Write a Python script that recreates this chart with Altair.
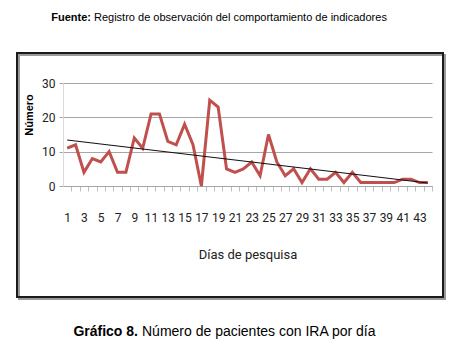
import altair as alt
import pandas as pd

# ---- data ----
days = list(range(1, 45))
patients = [11, 12, 4, 8, 7, 10, 4, 4, 14, 11,
            21, 21, 13, 12, 18, 12, 0, 25, 23, 5,
            4, 5, 7, 3, 15, 7, 3, 5, 1, 5,
            2, 2, 4, 1, 4, 1, 1, 1, 1, 1,
            2, 2, 1, 1]
x_tick_values = list(range(1, 45))
y_tick_values = [0, 10, 20, 30]
source_bold = ["Fuente:"]
source_text = ["Registro de observación del comportamiento de indicadores"]
caption_bold = ["Gráfico 8."]
caption_text = ["Número de pacientes con IRA por día"]
y_title = ["Número"]
x_title = "Días de pesquisa"

# ---- layout ----
W, H = 369, 103
PL, PT = 63, 83
HALF = W / 44 / 2
NARROW = "Roboto, Liberation Sans, sans-serif"
ARIAL = "Liberation Sans, Arial, sans-serif"
RED = "#C0504D"

df = pd.DataFrame({"day": days, "value": patients})

x_enc = alt.X(
    "day:Q",
    scale=alt.Scale(domain=[0.5, 44.5], nice=False, zero=False),
    axis=alt.Axis(
        values=x_tick_values,
        labelExpr="datum.value % 2 == 1 ? datum.label : ''",
        labelOverlap=False,
        labelFlush=False,
        tickOffset=HALF,
        labelOffset=-HALF,
        tickSize=5,
        tickColor="#bfbfbf",
        domainColor="#a6a6a6",
        grid=False,
        labelFont=NARROW,
        labelFontSize=12,
        labelColor="#222222",
        labelPadding=21,
        labelAngle=0,
        title=x_title,
        titleFont=NARROW,
        titleFontSize=13,
        titleFontWeight="normal",
        titleColor="#222222",
        titlePadding=25,
    ),
)
y_enc = alt.Y(
    "value:Q",
    scale=alt.Scale(domain=[0, 30], nice=False),
    axis=alt.Axis(
        values=y_tick_values,
        labelOverlap=False,
        labelFlush=False,
        grid=True,
        gridColor="#a6a6a6",
        domainColor="#d9d9d9",
        tickColor="#a6a6a6",
        tickSize=4,
        labelFont=NARROW,
        labelFontSize=12,
        labelColor="#222222",
        labelPadding=4,
        title="",
    ),
)

base = alt.Chart(df).encode(x=x_enc, y=y_enc)
line = base.mark_line(color=RED, strokeWidth=3)
trend = base.transform_regression("day", "value").mark_line(
    color="#111111", strokeWidth=1.2
)

def text_layer(values, x, y, align, size, weight, font=ARIAL, angle=0):
    return alt.Chart(pd.DataFrame({"t": values})).mark_text(
        align=align, baseline="middle", fontSize=size, fontWeight=weight,
        font=font, color="#000000", angle=angle
    ).encode(x=alt.value(x - PL), y=alt.value(y - PT), text="t:N")

src_b = text_layer(source_bold, 91, 18, "right", 11, "bold")
src_t = text_layer(source_text, 94, 18, "left", 11, "normal")
cap_b = text_layer(caption_bold, 138, 332, "right", 14, "bold")
cap_t = text_layer(caption_text, 142, 332, "left", 14, "normal")
ytl = text_layer(y_title, 30, 115, "center", 11, "bold", angle=270)

frame_df = pd.DataFrame({"k": [0]})
shadow = alt.Chart(frame_df).mark_rect(
    fillOpacity=0, stroke="#9a9a9a", strokeWidth=2
).encode(x=alt.value(17 - PL + 2), x2=alt.value(443 - PL + 2),
         y=alt.value(53 - PT + 2), y2=alt.value(297 - PT + 2))
frame = alt.Chart(frame_df).mark_rect(
    fillOpacity=0, stroke="#1a1a1a", strokeWidth=2
).encode(x=alt.value(17 - PL), x2=alt.value(443 - PL),
         y=alt.value(53 - PT), y2=alt.value(297 - PT))

chart = alt.layer(line, trend, shadow, frame, src_b, src_t, cap_b, cap_t, ytl).properties(
    width=W, height=H,
    autosize=alt.AutoSizeParams(type="none"),
    padding={"left": PL, "top": PT, "right": 461 - PL - W, "bottom": 352 - PT - H},
    background="white",
).configure_view(stroke="transparent")

chart.save("out.html", embed_options={"renderer": "svg", "actions": False})
